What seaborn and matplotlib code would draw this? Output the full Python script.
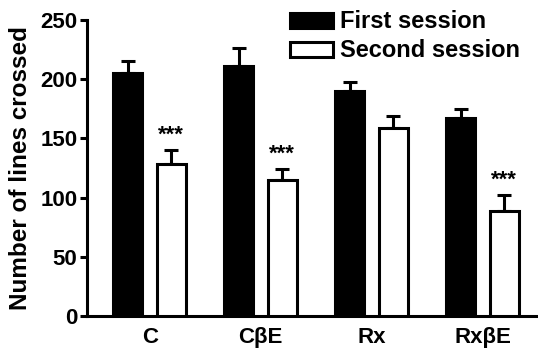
import matplotlib
matplotlib.use("Agg")
import matplotlib.pyplot as plt
import seaborn as sns
import pandas as pd
import numpy as np

groups = ["C", "C\u03b2E", "Rx", "Rx\u03b2E"]
sessions = ["First session", "Second session"]
first_mean = [205, 211, 190, 167]
second_mean = [128, 115, 159, 89]
first_err = [10, 15, 8, 8]
second_err = [12, 9, 10, 13]
stars = ["***", "***", "", "***"]

sns.set_theme(style="ticks")
plt.rcParams['font.family'] = ['Liberation Sans', 'DejaVu Sans']
plt.rcParams['font.weight'] = 'bold'
plt.rcParams['text.color'] = 'black'
plt.rcParams['axes.labelcolor'] = 'black'
plt.rcParams['xtick.color'] = 'black'
plt.rcParams['ytick.color'] = 'black'
plt.rcParams['axes.edgecolor'] = 'black'

df = pd.DataFrame({
    "group": groups * 2,
    "session": [sessions[0]] * 4 + [sessions[1]] * 4,
    "value": first_mean + second_mean,
})

fig = plt.figure(figsize=(5.38, 3.5), dpi=100)
ax = fig.add_axes([0.162, 0.097, 0.838, 0.846])

sns.barplot(data=df, x="group", y="value", hue="session", order=groups,
            hue_order=sessions, palette=["black", "white"], width=0.78, gap=0.33,
            edgecolor="black", linewidth=2.2, errorbar=None, ax=ax, zorder=3)

errs = first_err + second_err
means = first_mean + second_mean
patches = [p for p in ax.patches if p.get_height() > 0][:8]
for i, p in enumerate(patches):
    xc = p.get_x() + p.get_width() / 2
    ax.errorbar([xc], [means[i]], yerr=[[0], [errs[i]]], fmt="none",
                ecolor="black", elinewidth=2.2, capsize=5, capthick=2.2, zorder=2)
    if i >= 4 and stars[i - 4]:
        ax.text(xc, means[i] + errs[i] + 8, stars[i - 4], ha="center",
                va="baseline", fontsize=16, fontweight="bold")

ax.set_ylim(0, 250)
ax.set_xlim(-0.563, 3.5)
ax.set_yticks([0, 50, 100, 150, 200, 250])
ax.set_xlabel("")
ax.set_ylabel("Number of lines crossed", fontsize=17.5, fontweight="bold", labelpad=6)
ax.tick_params(axis="y", labelsize=16, width=2.2, length=5, pad=2)
ax.tick_params(axis="x", labelsize=16, length=0, pad=8)
for lbl in ax.get_xticklabels() + ax.get_yticklabels():
    lbl.set_fontweight("bold")
for s in ["top", "right"]:
    ax.spines[s].set_visible(False)
for s in ["left", "bottom"]:
    ax.spines[s].set_linewidth(2.2)

leg = ax.legend(loc="upper right", bbox_to_anchor=(0.96, 1.032), frameon=False,
                fontsize=17, handlelength=1.8, handleheight=0.6,
                handletextpad=0.3, labelspacing=0.25, borderpad=0, borderaxespad=0)
for t in leg.get_texts():
    t.set_fontweight("bold")
for h in leg.legend_handles:
    h.set_linewidth(2.2)

fig.savefig("out.png", dpi=100)
